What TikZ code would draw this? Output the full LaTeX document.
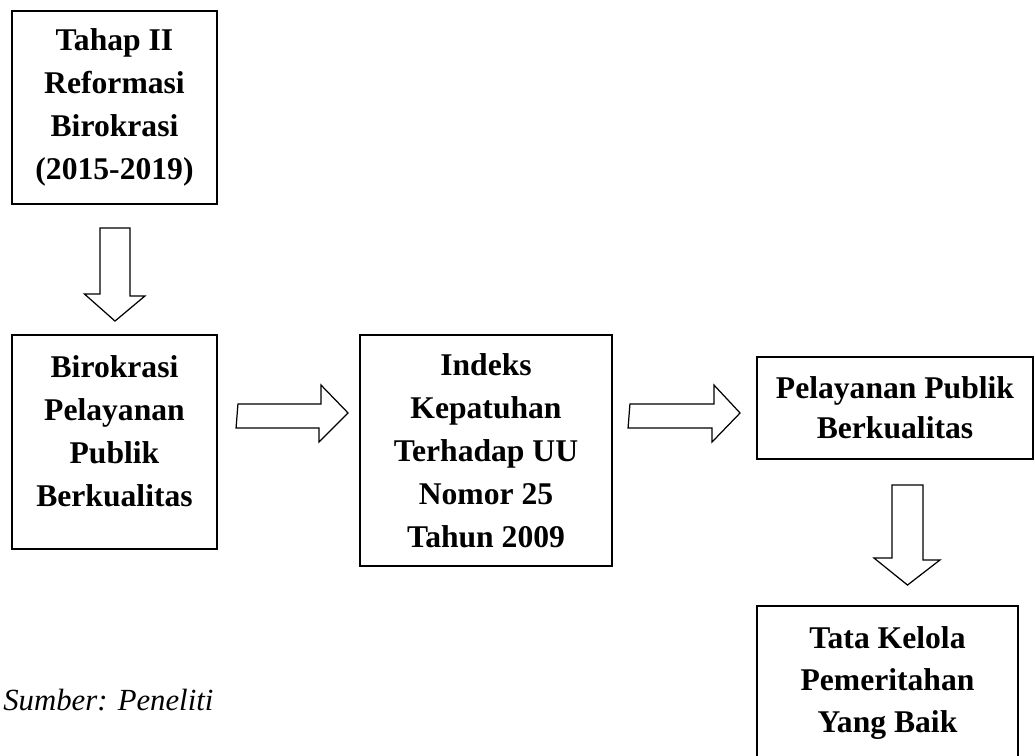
\documentclass[tikz,border=0pt]{standalone}
\usepackage{fontspec}
\setmainfont{Liberation Serif}
\usetikzlibrary{calc}

\tikzset{
  box/.style={draw, line width=1.1pt, align=center, inner sep=0pt,
    font=\fontsize{18}{24.5}\selectfont\bfseries},
  boxtext/.style={align=center, inner sep=0pt,
    font=\fontsize{18}{24.5}\selectfont\bfseries},
  hollow/.style={draw, line width=0.7pt, fill=white, line join=miter},
}

\begin{document}
\begin{tikzpicture}[x=0.02cm, y=-0.02cm]
    \useasboundingbox (0,0) rectangle (1035,756);

    % Stage box
    \node[box, minimum width=4.1cm, minimum height=3.86cm] (tahap) at (114.5,107.5)
      {Tahap II\\Reformasi\\Birokrasi\\(2015-2019)};
    % Bureaucracy box (text sits high)
    \node[box, minimum width=4.1cm, minimum height=4.28cm,
      label={[boxtext, yshift=0.22cm]center:{Birokrasi\\Pelayanan\\Publik\\Berkualitas}}]
      (birokrasi) at (114.5,442) {};
    % Index box
    \node[box, minimum width=5.04cm, minimum height=4.62cm] (indeks) at (486,450.5)
      {Indeks\\Kepatuhan\\Terhadap UU\\Nomor 25\\Tahun 2009};
    % Service box
    \node[box, minimum width=5.52cm, minimum height=2.04cm,
      font=\fontsize{18}{23}\selectfont\bfseries] (pelayanan) at (895,408)
      {Pelayanan Publik\\Berkualitas};
    % Governance box
    \node[box, minimum width=5.22cm, minimum height=3.08cm,
      font=\fontsize{18}{24}\selectfont\bfseries] (tata) at (887.5,683)
      {Tata Kelola\\Pemeritahan\\Yang Baik};

    % Source
    \node[anchor=base west, inner sep=0pt, font=\fontsize{17.5}{21}\selectfont\itshape]
      (sumber) at (3,710) {Sumber: Peneliti};

    % Arrow down (tahap -> birokrasi)
    \draw[hollow] ($(tahap.south)+(-14.5,23)$) -- ++(30,0) -- ++(0,68) -- ++(15,0)
      -- ($(birokrasi.north)+(0.5,-13)$) -- ++(-30.5,-27) -- ++(15.5,0) -- cycle;
    % Arrow right (birokrasi -> indeks)
    \draw[hollow] ($(birokrasi.east)+(20,-38)$) -- ++(83,0) -- ++(0,-19)
      -- ($(indeks.west)+(-11,-37.5)$) -- ++(-29,29) -- ++(0,-14) -- ++(-83,0) -- cycle;
    % Arrow right (indeks -> pelayanan)
    \draw[hollow] ($(indeks.east)+(17,-46.5)$) -- ++(84,0) -- ++(0,-19)
      -- ($(pelayanan.west)+(-16,5)$) -- ++(-28,29) -- ++(0,-14) -- ++(-84,0) -- cycle;
    % Arrow down (pelayanan -> tata)
    \draw[hollow] ($(pelayanan.south)+(-3,25)$) -- ++(31,0) -- ++(0,75) -- ++(17,0)
      -- ($(tata.north)+(20,-20)$) -- ++(-33.5,-27) -- ++(18,0) -- cycle;
\end{tikzpicture}
\end{document}
